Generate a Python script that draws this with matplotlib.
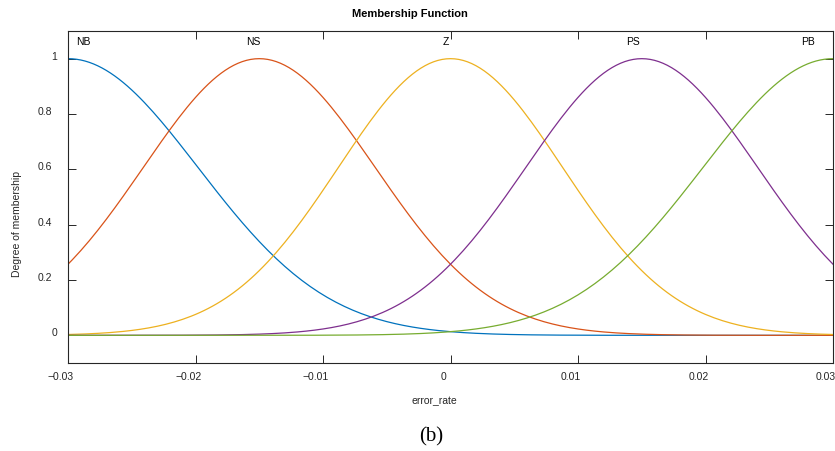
import numpy as np
import matplotlib
matplotlib.use('Agg')
import matplotlib.pyplot as plt
from matplotlib.transforms import ScaledTranslation

# =====================================
# Membership function data (gaussmf: center, sigma)
# =====================================
mf_names = ['NB', 'NS', 'Z', 'PS', 'PB']
mf_centers = [-0.03, -0.015, 0.0, 0.015, 0.03]
mf_sigmas = [0.0102, 0.0091, 0.0088, 0.0091, 0.0102]
mf_colors = ['#0072BD', '#D95319', '#EDB120', '#7E2F8E', '#77AC30']

# where MATLAB put the mf names (x, data units)
name_x = [-0.0288, -0.0155, -0.00035, 0.0143, 0.0280]

x_range = [-0.03, 0.03]
x_ticks = [-0.03, -0.02, -0.01, 0, 0.01, 0.02, 0.03]
x_ticklabels = ['\u22120.03', '\u22120.02', '\u22120.01', '0', '0.01', '0.02', '0.03']
y_ticks = [0, 0.2, 0.4, 0.6, 0.8, 1]
y_ticklabels = ['0', '0.2', '0.4', '0.6', '0.8', '1']

plt.rcParams['font.family'] = ['Liberation Sans', 'DejaVu Sans']
dark = '#262626'

fig = plt.figure(figsize=(8.35, 4.52), dpi=100)
ax = fig.add_axes([68 / 835, 1 - 364 / 452, 765 / 835, 332 / 452])

xs = np.linspace(x_range[0], x_range[1], 181)
for c, s, col in zip(mf_centers, mf_sigmas, mf_colors):
    ax.plot(xs, np.exp(-(xs - c) ** 2 / (2 * s ** 2)), color=col, lw=0.9)

for nm, nx in zip(mf_names, name_x):
    ax.text(nx, 1.065, nm, ha='center', va='center', fontsize=7.5, color='black')

ax.set_xlim(x_range)
ax.set_ylim(-0.1, 1.1)
ax.set_xticks(x_ticks)
ax.set_xticklabels(x_ticklabels)
ax.set_yticks(y_ticks)
ax.set_yticklabels(y_ticklabels)

ax.tick_params(direction='in', length=5.5, width=0.7, colors=dark,
               labelsize=7.5, top=True, right=True)
ax.tick_params(axis='x', pad=6)
ax.tick_params(axis='y', pad=8)
for sp in ax.spines.values():
    sp.set_color(dark)
    sp.set_linewidth(0.8)

# shift tick labels the way the original export has them
for lab in ax.get_xticklabels():
    lab.set_transform(lab.get_transform() + ScaledTranslation(-5 / 72, 0, fig.dpi_scale_trans))
for lab in ax.get_yticklabels():
    dx = 0 if lab.get_text() in ('0', '1') else -3.6
    lab.set_transform(lab.get_transform() + ScaledTranslation(dx / 72, 2.9 / 72, fig.dpi_scale_trans))

fig.text(410 / 835, 1 - 14 / 452, 'Membership Function', ha='center', va='center',
         fontsize=8, fontweight='bold', color='black')
fig.text(434 / 835, 1 - 401 / 452, 'error_rate', ha='center', va='center',
         fontsize=7.5, color=dark)
fig.text(17 / 835, 1 - 224 / 452, 'Degree of membership', ha='center', va='center',
         rotation=90, fontsize=7.5, color=dark)
fig.text(431 / 835, 1 - 437 / 452, '(b)', ha='center', va='center',
         fontsize=15, family='Liberation Serif', color='black')

plt.savefig('out.png', dpi=100)
